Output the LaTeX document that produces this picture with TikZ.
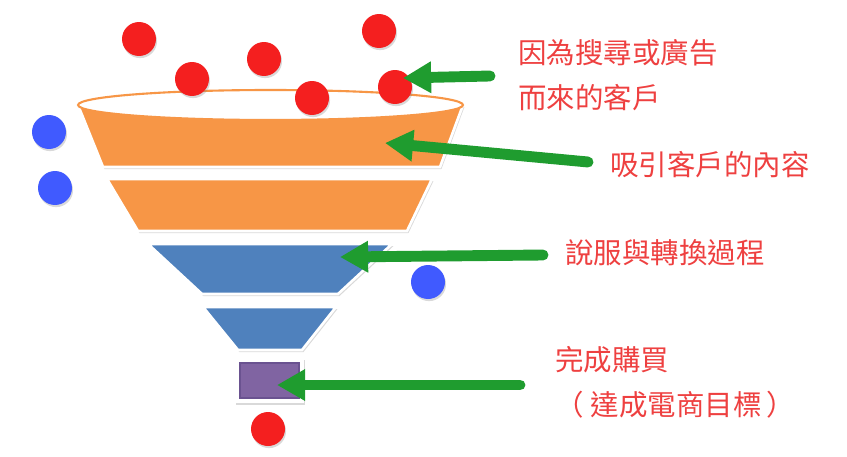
\documentclass[tikz,border=0pt]{standalone}
\usepackage{fontspec}
\newfontfamily\cjk{Noto Sans CJK TC}
\usetikzlibrary{arrows.meta,shadows}
\definecolor{bandorange}{HTML}{F79646}
\definecolor{bandblue}{HTML}{4F81BD}
\definecolor{goalpurple}{HTML}{8064A2}
\definecolor{goaledge}{HTML}{6A5290}
\definecolor{ballred}{HTML}{F41F1F}
\definecolor{ballblue}{HTML}{405AFF}
\definecolor{arrowgreen}{HTML}{1F9C2F}
\definecolor{labelred}{HTML}{EE4040}
\tikzset{
  band/.style={draw=white,line width=1.5pt,drop shadow={opacity=.3,shadow xshift=.8pt,shadow yshift=-1.2pt}},
  ball/.style={circle,minimum size=6.8mm,inner sep=0pt,drop shadow={opacity=.3,shadow xshift=.6pt,shadow yshift=-1.2pt}},
  redball/.style={ball,fill=ballred},
  blueball/.style={ball,fill=ballblue},
  garrow/.style={draw=arrowgreen,line width=6.2pt,line cap=round,-{Triangle[length=16pt,width=17pt]}},
  lbl/.style={text=labelred,font=\cjk\fontsize{16.2}{25.6}\selectfont,align=left,inner sep=0pt,anchor=west}
}

\begin{document}
\begin{tikzpicture}[x=0.02cm,y=-0.02cm]
  \useasboundingbox (0,0) rectangle (847,456);

  % funnel bands
  \path[band,fill=bandorange] (78,105) -- (103,167) -- (440,167) -- (463,105) -- cycle;
  \draw[fill=white,draw=bandorange,line width=1.2pt] (270.5,105) ellipse [x radius=3.85cm,y radius=0.3cm];
  \path[band,fill=bandorange] (107,179) -- (138,231) -- (407,231) -- (432,179) -- cycle;
  \path[band,fill=bandblue] (148,244) -- (202,294) -- (338,294) -- (392,244) -- cycle;
  \path[band,fill=bandblue] (203,307) -- (238,350) -- (302,350) -- (336,307) -- cycle;

  % goal box
  \path[fill=white,drop shadow={opacity=.3,shadow xshift=.8pt,shadow yshift=-1.2pt}] (235,358) rectangle (304,403);
  \draw[fill=goalpurple,draw=goaledge,line width=.6pt] (240,363) rectangle (299,398);

  % visitors
  \foreach \n/\x/\y in {1/139/39, 2/192/79, 3/264/59, 4/379/31, 5/312/98, 6/395/87, 7/268/429}
    {\node (r\n) [redball] at (\x,\y) {};}
  \foreach \n/\x/\y in {1/49/132, 2/55/188, 3/428/282}
    {\node (b\n) [blueball] at (\x,\y) {};}

  % labels
  \node (l1) [lbl] at (518,75.5) {因為搜尋或廣告\\而來的客戶};
  \node (l2) [lbl] at (610,165) {吸引客戶的內容};
  \node (l3) [lbl] at (565,253) {說服與轉換過程};
  \node (l4) [lbl] at (555,382.5) {完成購買\\（\hspace{4pt}達成電商目標\hspace{3pt}）};

  % arrows
  \coordinate (a1) at (490,76);   \coordinate (t1) at (403,78);
  \coordinate (a2) at (588,162);  \coordinate (t2) at (385,143);
  \coordinate (a3) at (543,255);  \coordinate (t3) at (340,257);
  \coordinate (a4) at (520,385);  \coordinate (t4) at (277,385);
  \foreach \i in {1,...,4}
    {\draw[garrow] (a\i) -- (t\i);}
\end{tikzpicture}
\end{document}
